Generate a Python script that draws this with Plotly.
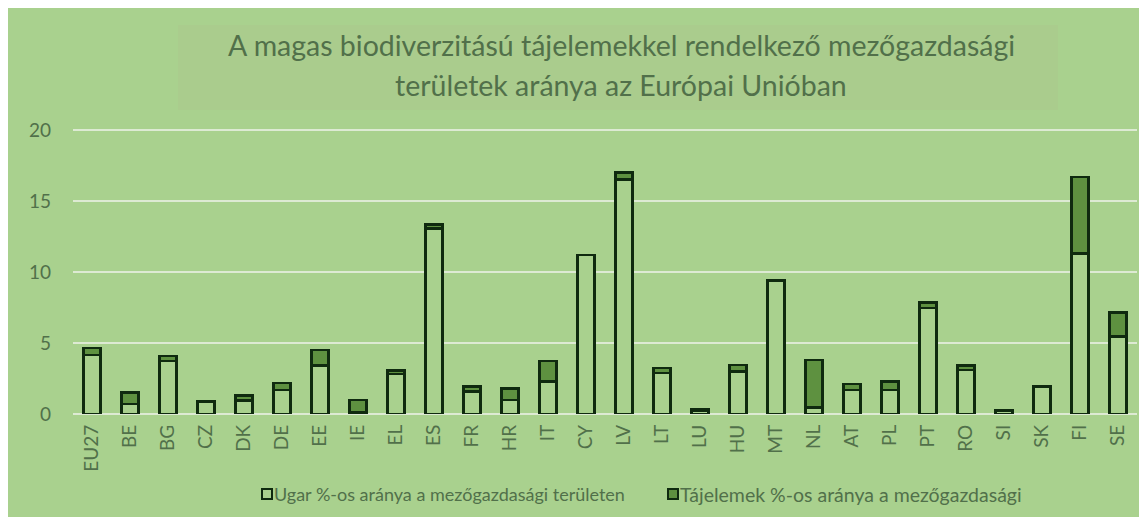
import plotly.graph_objects as go

countries = ["EU27", "BE", "BG", "CZ", "DK", "DE", "EE", "IE", "EL", "ES", "FR", "HR", "IT", "CY",
             "LV", "LT", "LU", "HU", "MT", "NL", "AT", "PL", "PT", "RO", "SI", "SK", "FI", "SE"]
ugar = [4.15, 0.7, 3.75, 0.85, 0.95, 1.7, 3.4, 0.1, 2.8, 13.05, 1.6, 1.0, 2.3, 11.2,
        16.5, 2.9, 0.25, 3.0, 9.4, 0.45, 1.7, 1.7, 7.45, 3.1, 0.2, 1.95, 11.3, 5.45]
tajelemek = [0.5, 0.8, 0.35, 0.05, 0.35, 0.5, 1.1, 0.9, 0.25, 0.3, 0.35, 0.8, 1.45, 0.0,
             0.5, 0.35, 0.05, 0.45, 0.0, 3.35, 0.4, 0.6, 0.4, 0.3, 0.05, 0.0, 5.4, 1.7]
name_ugar = "Ugar %-os aránya a mezőgazdasági területen"
name_taj = "Tájelemek %-os aránya a mezőgazdasági"
title_lines = ["A magas biodiverzitású tájelemekkel rendelkező mezőgazdasági",
               "területek aránya az Európai Unióban"]
y_ticks = [0, 5, 10, 15, 20]

W, H = 1147, 517
# figure coordinates (the page body adds an 8px white margin at top/left)
L, R, T, B = 65, 18, 119, 111
PW, PH = W - L - R, H - T - B
Y_MAX = 20.21
BG = "#A9D18E"
DARK = "#5E9140"
EDGE = "#0F2A0F"
TXT = "#51704A"
FONT = "Lato"


def px(x):
    return (x - L) / PW


def py(y):
    return (H - B - y) / PH


fig = go.Figure()
fig.add_trace(go.Bar(x=countries, y=ugar, name=name_ugar,
                     marker=dict(color=BG, line=dict(color=EDGE, width=2.5))))
fig.add_trace(go.Bar(x=countries, y=tajelemek, name=name_taj,
                     marker=dict(color=DARK, line=dict(color=EDGE, width=2.5))))

shapes = [
    # title box
    dict(type="rect", xref="paper", yref="paper", x0=px(170), x1=px(1050), y0=py(17), y1=py(102),
         fillcolor="#AACC8D", line=dict(width=0), layer="below"),
    # legend symbols
    dict(type="rect", xref="paper", yref="paper", x0=px(254), x1=px(264), y0=py(481), y1=py(491),
         fillcolor=BG, line=dict(color=EDGE, width=2)),
    dict(type="rect", xref="paper", yref="paper", x0=px(660), x1=px(670), y0=py(481), y1=py(491),
         fillcolor=DARK, line=dict(color=EDGE, width=2)),
]

annotations = [
    dict(text=title_lines[0], x=px(613), y=py(37), xref="paper", yref="paper", showarrow=False,
         xanchor="center", yanchor="middle", font=dict(size=28.5, color=TXT, family=FONT)),
    dict(text=title_lines[1], x=px(613), y=py(77), xref="paper", yref="paper", showarrow=False,
         xanchor="center", yanchor="middle", font=dict(size=28.5, color=TXT, family=FONT)),
    dict(text=name_ugar, x=px(266), y=py(486), xref="paper", yref="paper", showarrow=False,
         xanchor="left", yanchor="middle", xshift=-2, font=dict(size=18, color=TXT, family=FONT)),
    dict(text=name_taj, x=px(672), y=py(486), xref="paper", yref="paper", showarrow=False,
         xanchor="left", yanchor="middle", xshift=-2, font=dict(size=19.5, color=TXT, family=FONT)),
]

fig.update_layout(
    width=W, height=H,
    margin=dict(l=L, r=R, t=T, b=B, pad=0),
    barmode="stack", bargap=0.55,
    paper_bgcolor=BG, plot_bgcolor=BG,
    showlegend=False,
    font=dict(family=FONT, color=TXT),
    shapes=shapes, annotations=annotations,
    xaxis=dict(tickangle=-90, tickfont=dict(size=19, color=TXT), showgrid=False,
               showline=False, ticks="", ticklabelstandoff=6),
    yaxis=dict(range=[0, Y_MAX], tickvals=y_ticks, tickfont=dict(size=19, color=TXT),
               showgrid=True, gridcolor="#DDEAD3", gridwidth=2,
               zeroline=True, zerolinecolor="#DDEAD3", zerolinewidth=2,
               showline=False, ticks="", ticklabelstandoff=21),
)

fig.write_html("out.html")
